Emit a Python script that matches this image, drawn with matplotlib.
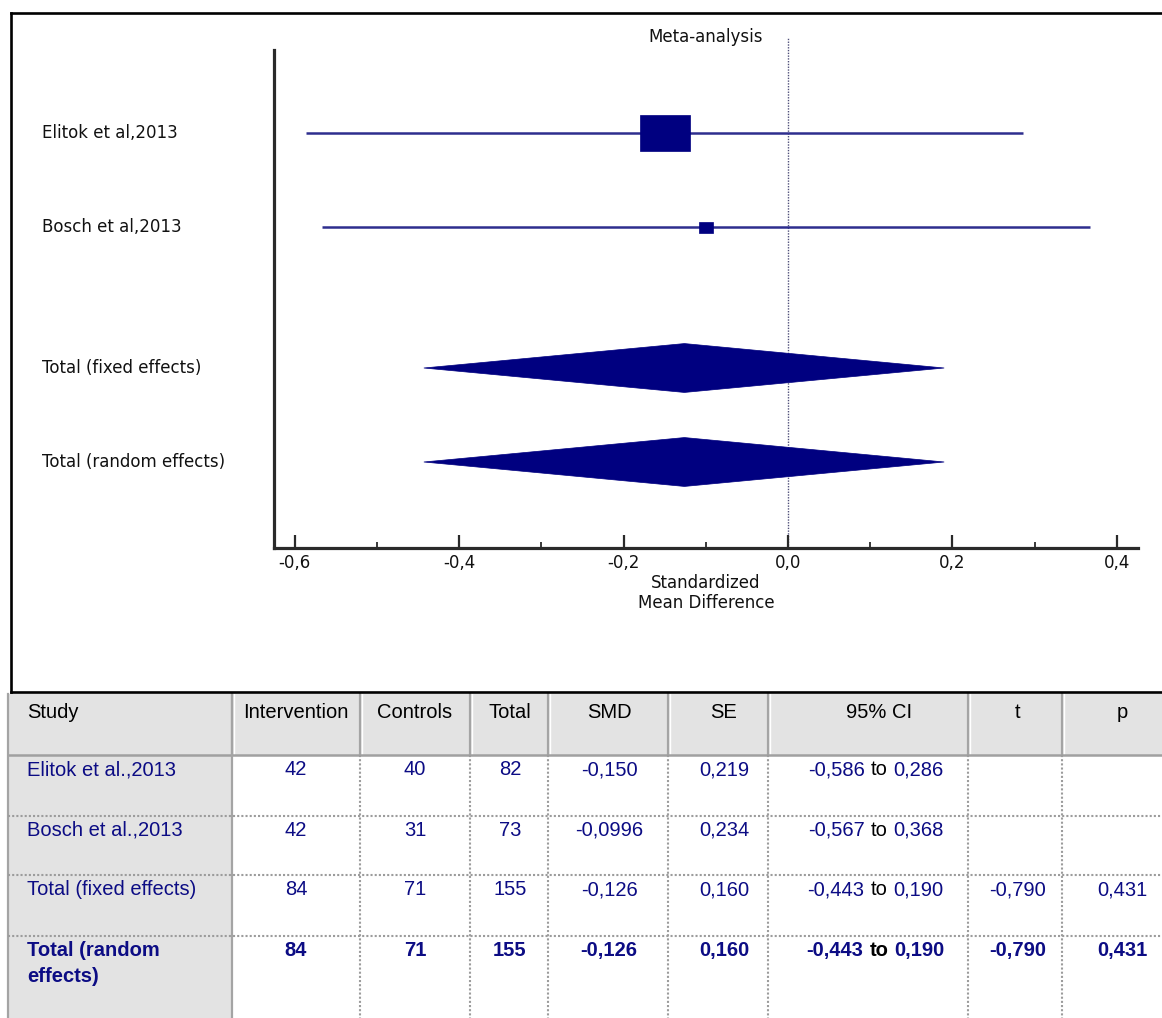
import matplotlib
matplotlib.use("Agg")
import math
import matplotlib.pyplot as plt
import numpy as np
from matplotlib.patches import Rectangle, Polygon
from matplotlib.transforms import blended_transform_factory
from matplotlib.ticker import FuncFormatter, MultipleLocator

plt.rcParams['axes.unicode_minus'] = False

# ---- study-level results (standardized mean difference, 95% CI) ----
study_names = ["Elitok et al,2013", "Bosch et al,2013"]
study_smd = [-0.150, -0.0996]
study_ci_low = [-0.586, -0.567]
study_ci_high = [0.286, 0.368]

# ---- pooled estimates ----
pooled_names = ["Total (fixed effects)", "Total (random effects)"]
pooled_smd = [-0.126, -0.126]
pooled_ci_low = [-0.443, -0.443]
pooled_ci_high = [0.190, 0.190]

x_ticks = [-0.6, -0.4, -0.2, 0.0, 0.2, 0.4]

# ---- summary table ----
table_header = ["Study", "Intervention", "Controls", "Total", "SMD", "SE",
                "95% CI", "t", "p"]
table_names = ["Elitok et al.,2013", "Bosch et al.,2013",
               "Total (fixed effects)", "Total (random\neffects)"]
n_intervention = [42, 42, 84, 84]
n_controls = [40, 31, 71, 71]
n_total = [82, 73, 155, 155]
table_smd = study_smd + pooled_smd
table_se = [0.219, 0.234, 0.160, 0.160]
table_ci_low = study_ci_low + pooled_ci_low
table_ci_high = study_ci_high + pooled_ci_high
table_t = [None, None, -0.790, -0.790]
table_p = [None, None, 0.431, 0.431]


def fmt3(v):
    """Three significant digits, trailing zeros kept, decimal comma."""
    decimals = max(0, 2 - int(math.floor(math.log10(abs(v)))))
    return f"{v:.{decimals}f}".replace('.', ',')


W, H = 1162, 1018
fig = plt.figure(figsize=(W / 100, H / 100), dpi=100)
fig.patch.set_facecolor('white')


def fx(px):
    return px / W


def fy(py):
    return 1 - py / H


# pixel-space canvas for frame and table
canvas = fig.add_axes([0, 0, 1, 1], zorder=0)
canvas.set_xlim(0, W)
canvas.set_ylim(H, 0)
canvas.axis('off')

# ---- forest plot ----
ax_l, ax_r, ax_t, ax_b = 274, 1138, 38, 548
ax = fig.add_axes([fx(ax_l), fy(ax_b), (ax_r - ax_l) / W, (ax_b - ax_t) / H],
                  zorder=2)
ax.patch.set_alpha(0)
ax.set_xlim(-0.6253, 0.4258)
ax.set_ylim(4.415, -1.011)

for s in ('top', 'right'):
    ax.spines[s].set_visible(False)
for s in ('left', 'bottom'):
    ax.spines[s].set_color('#2a2a2a')
    ax.spines[s].set_linewidth(2.3)
ax.spines['left'].set_bounds(-0.883, 4.415)

study_rows = [0, 1]
pooled_rows = [2.5, 3.5]

line_col = '#2e2e8e'
mark_col = '#000080'

ax.axvline(0, color='#50507a', lw=1.0, ls=(0, (1, 1)), zorder=1)

ax.hlines(study_rows, study_ci_low, study_ci_high, color=line_col, lw=1.8,
          zorder=2)

# box sizes (x-units, row-units)
box_w = [0.061, 0.017]
box_h = [0.383, 0.117]
for r, m, bw, bh in zip(study_rows, study_smd, box_w, box_h):
    ax.add_patch(Rectangle((m - bw / 2, r - bh / 2), bw, bh, fc=mark_col,
                           ec=mark_col, lw=0.5, zorder=3))

dh = 0.26
for r, m, lo, hi in zip(pooled_rows, pooled_smd, pooled_ci_low, pooled_ci_high):
    ax.add_patch(Polygon([(lo, r), (m, r - dh), (hi, r), (m, r + dh)],
                         closed=True, fc=mark_col, ec=mark_col, lw=0.5,
                         zorder=3))

ax.set_xticks(x_ticks)
ax.xaxis.set_minor_locator(MultipleLocator(0.1))
ax.xaxis.set_major_formatter(FuncFormatter(
    lambda v, p: f"{round(v, 1) + 0.0:.1f}".replace('.', ',')))
ax.tick_params(axis='x', which='major', direction='in', length=9.5, width=1.6,
               color='#2a2a2a', labelsize=12, pad=4, labelcolor='#111111')
ax.tick_params(axis='x', which='minor', direction='in', length=4.5, width=1.3,
               color='#2a2a2a')
ax.tick_params(axis='y', left=False, labelleft=False)

lab_tr = blended_transform_factory(fig.transFigure, ax.transData)
for name, r in zip(study_names + pooled_names, study_rows + pooled_rows):
    ax.text(fx(42), r, name, transform=lab_tr, ha='left', va='center',
            fontsize=12, color='#111111')

fig.text(fx(706), fy(37), "Meta-analysis", ha='center', va='center',
         fontsize=12, color='#111111')
fig.text(fx(706), fy(593), "Standardized\nMean Difference", ha='center',
         va='center', fontsize=12, linespacing=1.1, color='#111111')

# ---- frame around plot panel ----
frame_kw = dict(color='black', lw=1.9, solid_capstyle='projecting', zorder=5)
canvas.plot([11, W + 10], [13, 13], **frame_kw)
canvas.plot([11, 11], [13, 692], **frame_kw)
canvas.plot([11, W + 10], [692, 692], **frame_kw)

# ---- table ----
col_edges = [8, 232, 360, 470, 548, 668, 768, 968, 1062, 1200]
row_edges = [694, 755, 816, 875, 936, 1060]
col_centers = [27, 296, 415, 510, 609, 724, 879, 1018, 1122]
gray_fill = '#e3e3e3'
navy = '#0c0c84'
tfont = 'Liberation Sans'
tsize = 14.5

canvas.add_patch(Rectangle((col_edges[0], row_edges[0]),
                           col_edges[-1] - col_edges[0],
                           row_edges[1] - row_edges[0], fc=gray_fill,
                           ec='none', zorder=1))
canvas.add_patch(Rectangle((col_edges[0], row_edges[1]),
                           col_edges[1] - col_edges[0],
                           row_edges[-1] - row_edges[1], fc=gray_fill,
                           ec='none', zorder=1))

solid_kw = dict(color='#a4a4a4', lw=1.6, zorder=2)
for x in col_edges[1:-1]:
    canvas.plot([x, x], [row_edges[0], row_edges[1]], **solid_kw)
    canvas.plot([x + 2, x + 2], [row_edges[0], row_edges[1]],
                color='white', lw=1.0, zorder=2)
canvas.plot([col_edges[0], col_edges[-1]], [row_edges[1], row_edges[1]],
            color='#a0a0a0', lw=1.8, zorder=2)
canvas.plot([col_edges[0], col_edges[0]], [row_edges[0], row_edges[-1]],
            **solid_kw)
canvas.plot([col_edges[1], col_edges[1]], [row_edges[0], row_edges[-1]],
            **solid_kw)

dot_kw = dict(color='#9c9c9c', lw=1.5, ls=(0, (1, 1)), zorder=2)
for x in col_edges[2:-1]:
    canvas.plot([x, x], [row_edges[1], row_edges[-1]], **dot_kw)
for y in row_edges[2:-1]:
    canvas.plot([col_edges[0], col_edges[-1]], [y, y], **dot_kw)

# header text
for j, h in enumerate(table_header):
    canvas.text(col_centers[j], row_edges[0] + 9, h,
                ha='left' if j == 0 else 'center', va='top',
                fontsize=tsize, family=tfont, color='black', zorder=4)

# body text
for i in range(len(table_names)):
    y = row_edges[i + 1] + 5
    weight = 'bold' if i == len(table_names) - 1 else 'normal'
    kw = dict(va='top', fontsize=tsize, family=tfont, weight=weight,
              color=navy, zorder=4)
    canvas.text(col_centers[0], y, table_names[i], ha='left',
                linespacing=1.5, **kw)
    cells = [str(n_intervention[i]), str(n_controls[i]), str(n_total[i]),
             fmt3(table_smd[i]), fmt3(table_se[i])]
    for j, c in enumerate(cells, start=1):
        canvas.text(col_centers[j], y, c, ha='center', **kw)
    # confidence interval: navy bounds around a black "to"
    to_txt = canvas.text(col_centers[6], y, "to", ha='center',
                         **dict(kw, color='black'))
    canvas.annotate(fmt3(table_ci_low[i]), xy=(0, 0), xycoords=to_txt,
                    xytext=(-6, 0), textcoords='offset pixels', ha='right',
                    va='bottom', fontsize=tsize, family=tfont, weight=weight,
                    color=navy, zorder=4)
    canvas.annotate(fmt3(table_ci_high[i]), xy=(1, 0), xycoords=to_txt,
                    xytext=(6, 0), textcoords='offset pixels', ha='left',
                    va='bottom', fontsize=tsize, family=tfont, weight=weight,
                    color=navy, zorder=4)
    if table_t[i] is not None:
        canvas.text(col_centers[7], y, fmt3(table_t[i]), ha='center', **kw)
    if table_p[i] is not None:
        canvas.text(col_centers[8], y, fmt3(table_p[i]), ha='center', **kw)

fig.savefig("out.png", dpi=100, facecolor='white')
